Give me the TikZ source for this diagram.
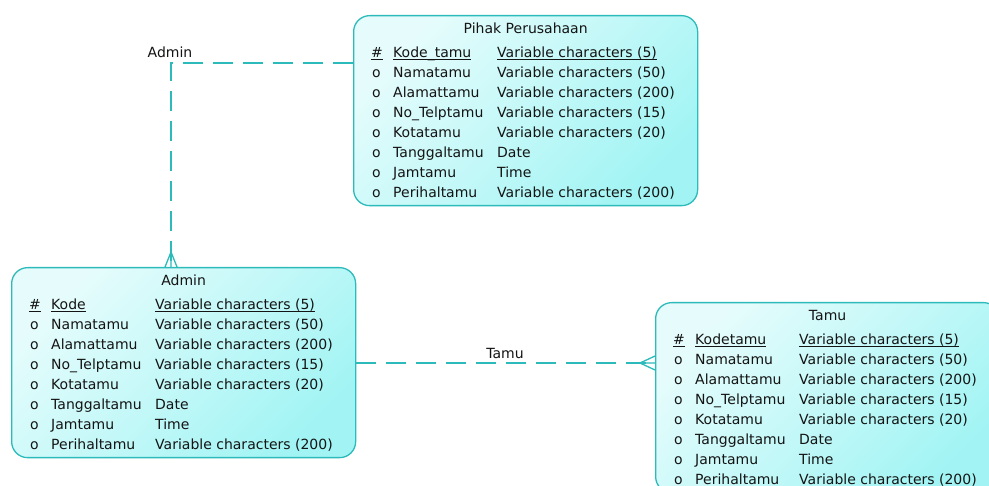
\documentclass[tikz,border=0pt]{standalone}
\usepackage{fontspec}
\setmainfont{DejaVu Sans}
\usetikzlibrary{calc}

\definecolor{edgecyan}{HTML}{2CBABA}
\definecolor{fillhi}{HTML}{E6FCFC}
\definecolor{filllo}{HTML}{A2F4F4}
\definecolor{inkgray}{HTML}{141414}

% underline used for the primary key row
\newcommand\keyul[1]{\setbox0\hbox{#1}\rlap{\rule[-2.2pt]{\wd0}{0.8pt}}\box0}

% attribute rows of one entity box
\newcommand\entityattrs[2]{%
  \node[attr] (#1-k-m) at ($(#1.north west)+(18,43)$) {\keyul{\#}};
  \node[attr] (#1-k-n) at ($(#1.north west)+(40,43)$) {\keyul{#2}};
  \node[attr] (#1-k-t) at ($(#1.north west)+(144,43)$) {\keyul{Variable characters (5)}};
  \foreach \nm/\ty [count=\i] in {Namatamu/Variable characters (50),
      Alamattamu/Variable characters (200), No\_Telptamu/Variable characters (15),
      Kotatamu/Variable characters (20), Tanggaltamu/Date, Jamtamu/Time,
      Perihaltamu/Variable characters (200)} {
    \node[attr] (#1-r\i-m) at ($(#1.north west)+(19,43+20*\i)$) {o};
    \node[attr] (#1-r\i-n) at ($(#1.north west)+(40,43+20*\i)$) {\nm};
    \node[attr] (#1-r\i-t) at ($(#1.north west)+(144,43+20*\i)$) {\ty};
  }
}

\begin{document}
\begin{tikzpicture}[x=1pt,y=-1pt,
  entity/.style={draw=edgecyan, line width=1.3pt, rounded corners=16pt,
    top color=fillhi, bottom color=filllo, shading angle=45,
    minimum width=344pt, minimum height=190pt, anchor=north west, inner sep=0pt},
  txt/.style={inner sep=0pt, text=inkgray, font=\fontsize{14pt}{16pt}\selectfont},
  attr/.style={txt, anchor=base west},
  title/.style={txt, anchor=base},
  lbl/.style={txt},
  rel/.style={draw=edgecyan, line width=1.3pt, dash pattern=on 20pt off 10pt},
  foot/.style={draw=edgecyan, line width=1.3pt}
]
\useasboundingbox (0,0) rectangle (989,486);
\fill[white] (0,0) rectangle (989,486);
\clip (0,0) rectangle (989,486);

% entity boxes
\node[entity] (pihak) at (353,15) {};
\node[entity] (admin) at (11,267) {};
\node[entity] (tamu) at (655,302) {};

\node[title] (pihak-title) at ($(pihak.north)+(0,19)$) {Pihak Perusahaan};
\node[title] (admin-title) at ($(admin.north)+(0,19)$) {Admin};
\node[title] (tamu-title) at ($(tamu.north)+(0,19)$) {Tamu};

\entityattrs{pihak}{Kode\_tamu}
\entityattrs{admin}{Kode}
\entityattrs{tamu}{Kodetamu}

% relationship Admin: Pihak Perusahaan -> Admin (many)
\coordinate (bendA) at (171,63);
\draw[rel] (pihak.west |- bendA) -- (bendA) -- (bendA |- admin.north);
\coordinate (footA) at (bendA |- admin.north);
\draw[foot] ($(footA)+(-6,0)$) -- ($(footA)+(0,-15)$) -- ($(footA)+(6,0)$)
            ($(footA)+(0,-15)$) -- (footA);
\node[lbl] (rel-admin) at (170,52) {Admin};

% relationship Tamu: Admin -> Tamu (many)
\coordinate (rowT) at (505,363);
\draw[rel] (admin.east |- rowT) -- (tamu.west |- rowT);
\coordinate (footT) at (tamu.west |- rowT);
\draw[foot] ($(footT)+(0,-7)$) -- ($(footT)+(-15,0)$) -- ($(footT)+(0,7)$)
            ($(footT)+(-15,0)$) -- (footT);
\node[lbl] (rel-tamu) at (505,353) {Tamu};
\end{tikzpicture}
\end{document}
